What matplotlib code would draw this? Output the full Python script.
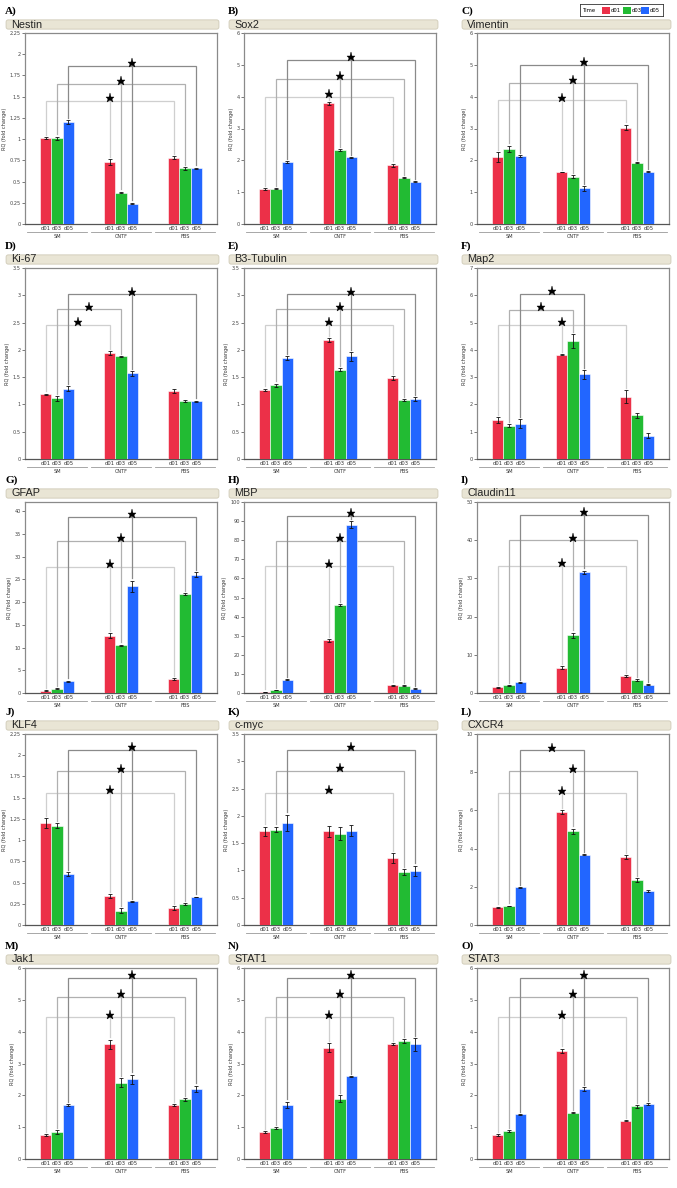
import matplotlib.pyplot as plt
from matplotlib.patches import FancyBboxPatch, Rectangle
import matplotlib.transforms as mtransforms
import numpy as np

# ---- data: order is SM d01,d03,d05 | CNTF d01,d03,d05 | FBS d01,d03,d05
groups = ["SM", "CNTF", "FBS"]
times = ["d01", "d03", "d05"]
colors = ["#ec3048", "#22bb33", "#2266ff"]
brk_colors = ["#cfcfcf", "#b0b0b0", "#8a8a8a"]

mean_nestin = [1.01, 1.01, 1.20, 0.73, 0.37, 0.24, 0.78, 0.655, 0.655]
err_nestin = [0.01, 0.02, 0.02, 0.03, 0.01, 0.01, 0.02, 0.015, 0.01]
brk_nestin = [(1.45, "F"), (1.65, "F"), (1.86, "F")]

mean_sox2 = [1.10, 1.11, 1.95, 3.79, 2.32, 2.09, 1.84, 1.46, 1.33]
err_sox2 = [0.02, 0.02, 0.02, 0.04, 0.03, 0.01, 0.06, 0.02, 0.02]
brk_sox2 = [(4.0, "F"), (4.56, "F"), (5.15, "F")]

mean_vim = [2.10, 2.36, 2.13, 1.63, 1.49, 1.12, 3.03, 1.93, 1.64]
err_vim = [0.16, 0.10, 0.04, 0.01, 0.04, 0.07, 0.09, 0.02, 0.02]
brk_vim = [(3.88, "F"), (4.43, "F"), (5.0, "F")]

mean_ki67 = [1.19, 1.11, 1.29, 1.94, 1.88, 1.57, 1.25, 1.07, 1.06]
err_ki67 = [0.01, 0.04, 0.04, 0.03, 0.01, 0.04, 0.04, 0.02, 0.01]
brk_ki67 = [(2.46, "C"), (2.74, "C"), (3.02, "F")]

mean_tub = [1.27, 1.35, 1.85, 2.18, 1.64, 1.88, 1.48, 1.08, 1.10]
err_tub = [0.02, 0.03, 0.03, 0.03, 0.02, 0.08, 0.04, 0.02, 0.03]
brk_tub = [(2.46, "F"), (2.74, "F"), (3.02, "F")]

mean_map2 = [1.43, 1.22, 1.30, 3.82, 4.33, 3.10, 2.28, 1.60, 0.86]
err_map2 = [0.10, 0.05, 0.15, 0.02, 0.25, 0.15, 0.24, 0.10, 0.10]
brk_map2 = [(4.92, "F"), (5.46, "C"), (6.05, "C")]

mean_gfap = [0.5, 0.9, 2.6, 12.6, 10.5, 23.5, 3.1, 21.8, 26.0]
err_gfap = [0.1, 0.1, 0.1, 0.6, 0.15, 1.2, 0.15, 0.2, 0.5]
brk_gfap = [(27.7, "F"), (33.4, "F"), (38.7, "F")]

mean_mbp = [0.6, 1.5, 7.0, 27.5, 46.0, 88.0, 4.0, 3.9, 2.2]
err_mbp = [0.1, 0.1, 0.3, 0.8, 0.4, 1.8, 0.3, 0.3, 0.2]
brk_mbp = [(66.3, "F"), (79.8, "F"), (92.6, "F")]

mean_cld = [1.5, 2.0, 2.8, 6.6, 15.1, 31.6, 4.4, 3.4, 2.2]
err_cld = [0.1, 0.1, 0.1, 0.4, 0.7, 0.4, 0.2, 0.3, 0.1]
brk_cld = [(33.3, "F"), (40.0, "F"), (46.7, "F")]

mean_klf4 = [1.20, 1.17, 0.60, 0.34, 0.17, 0.28, 0.20, 0.245, 0.33]
err_klf4 = [0.06, 0.03, 0.02, 0.025, 0.025, 0.005, 0.02, 0.01, 0.005]
brk_klf4 = [(1.555, "F"), (1.81, "F"), (2.06, "F")]

mean_myc = [1.72, 1.75, 1.87, 1.72, 1.67, 1.73, 1.23, 0.97, 0.99]
err_myc = [0.08, 0.05, 0.15, 0.10, 0.12, 0.10, 0.09, 0.05, 0.10]
brk_myc = [(2.42, "N"), (2.82, "N"), (3.21, "N")]

mean_cxcr4 = [0.93, 1.0, 1.97, 5.9, 4.9, 3.68, 3.57, 2.35, 1.78]
err_cxcr4 = [0.03, 0.02, 0.03, 0.10, 0.15, 0.03, 0.10, 0.10, 0.06]
brk_cxcr4 = [(6.9, "F"), (8.04, "F"), (9.14, "C")]

mean_jak1 = [0.75, 0.85, 1.70, 3.60, 2.40, 2.50, 1.70, 1.87, 2.20]
err_jak1 = [0.03, 0.05, 0.03, 0.15, 0.15, 0.15, 0.03, 0.05, 0.10]
brk_jak1 = [(4.45, "F"), (5.1, "F"), (5.7, "F")]

mean_stat1 = [0.85, 0.97, 1.70, 3.50, 1.90, 2.60, 3.60, 3.70, 3.60]
err_stat1 = [0.03, 0.03, 0.10, 0.15, 0.10, 0.01, 0.03, 0.07, 0.20]
brk_stat1 = [(4.45, "F"), (5.1, "F"), (5.7, "F")]

mean_stat3 = [0.75, 0.88, 1.40, 3.40, 1.45, 2.20, 1.20, 1.65, 1.72]
err_stat3 = [0.02, 0.02, 0.02, 0.07, 0.02, 0.05, 0.02, 0.05, 0.03]
brk_stat3 = [(4.45, "F"), (5.1, "F"), (5.7, "F")]

letters = list("ABCDEFGHIJKLMNO")
genes = ["Nestin", "Sox2", "Vimentin", "Ki-67", "B3-Tubulin", "Map2",
         "GFAP", "MBP", "Claudin11", "KLF4", "c-myc", "CXCR4",
         "Jak1", "STAT1", "STAT3"]
ymax = [2.25, 6, 6, 3.5, 3.5, 7, 42, 100, 50, 2.25, 3.5, 10, 6, 6, 6]
ystep = [0.25, 1, 1, 0.5, 0.5, 1, 5, 10, 10, 0.25, 0.5, 2, 1, 1, 1]
means = [mean_nestin, mean_sox2, mean_vim, mean_ki67, mean_tub, mean_map2,
         mean_gfap, mean_mbp, mean_cld, mean_klf4, mean_myc, mean_cxcr4,
         mean_jak1, mean_stat1, mean_stat3]
errs = [err_nestin, err_sox2, err_vim, err_ki67, err_tub, err_map2,
        err_gfap, err_mbp, err_cld, err_klf4, err_myc, err_cxcr4,
        err_jak1, err_stat1, err_stat3]
brks = [brk_nestin, brk_sox2, brk_vim, brk_ki67, brk_tub, brk_map2,
        brk_gfap, brk_mbp, brk_cld, brk_klf4, brk_myc, brk_cxcr4,
        brk_jak1, brk_stat1, brk_stat3]

# ---- layout in pixels
W, H = 677, 1188
fig = plt.figure(figsize=(W / 100, H / 100), dpi=100)

def frect(x0, y0, w, h):
    return [x0 / W, 1 - (y0 + h) / H, w / W, h / H]

col_left = [25, 244, 477]
row_top = [33, 268, 502, 734, 968]
ax_w, ax_h = 192, 191
bw = 0.177
xg = np.arange(3)

for i in range(15):
    r, c = divmod(i, 3)
    left, top = col_left[c], row_top[r]
    ax = fig.add_axes(frect(left, top, ax_w, ax_h))
    vals = np.array(means[i]).reshape(3, 3)
    ers = np.array(errs[i]).reshape(3, 3)
    ym = ymax[i]

    for t in range(3):
        ax.bar(xg + (t - 1) * bw, vals[:, t], bw, color=colors[t],
               edgecolor="#ffffff", linewidth=0.4, zorder=3,
               yerr=ers[:, t],
               error_kw=dict(ecolor="#111111", elinewidth=0.6, capsize=1.6,
                             capthick=0.6, zorder=4))

    gap = 0.012 * ym
    for t, (lev, kind) in enumerate(brks[i]):
        g2 = 1 if kind == "C" else 2
        x1 = 0 + (t - 1) * bw
        x2 = g2 + (t - 1) * bw
        y1 = vals[0, t] + ers[0, t] + gap
        y2 = vals[g2, t] + ers[g2, t] + gap
        ax.plot([x1, x1, x2, x2], [y1, lev, lev, y2], color=brk_colors[t],
                lw=0.9, zorder=2, solid_joinstyle="miter")
        if kind == "F":
            xc = 1 + (t - 1) * bw
            ax.plot([xc, xc], [vals[1, t] + ers[1, t] + gap, lev + 0.01 * ym],
                    color=brk_colors[t], lw=0.9, zorder=2)
            sx = xc
        else:
            sx = (x1 + x2) / 2
        ax.plot([sx], [lev + 0.014 * ym], marker="*", ms=6.5, color="black",
                mec="black", mew=0.3, zorder=5, clip_on=False)

    ax.set_xlim(-0.5, 2.5)
    ax.set_ylim(0, ym)
    ticks = np.arange(0, ym + 1e-9, ystep[i])
    ax.set_yticks(ticks)
    ax.set_yticklabels([f"{v:g}" for v in ticks])
    pos = np.concatenate([xg + (t - 1) * bw for t in range(3)])
    ax.set_xticks(np.sort(pos))
    ax.set_xticklabels(times * 3)
    ax.tick_params(axis="y", length=2, width=0.5, labelsize=3.6, pad=1,
                   colors="#444444")
    ax.tick_params(axis="x", length=0, labelsize=3.8, pad=1.5,
                   colors="#333333")
    ax.set_ylabel("RQ (fold change)", fontsize=3.6, labelpad=2,
                  color="#333333")
    for s in ax.spines.values():
        s.set_color("#8a8a8a")
        s.set_linewidth(0.9)
    ax.spines["bottom"].set_color("#555555")

    trans = mtransforms.blended_transform_factory(ax.transData, ax.transAxes)
    for g in range(3):
        ax.plot([g - 0.47, g + 0.47], [-0.043, -0.043], color="#999999",
                lw=0.6, transform=trans, clip_on=False)
        ax.text(g, -0.068, groups[g], transform=trans, ha="center",
                va="center", fontsize=3.6, color="#333333")

    # title strip
    s_left = left - (20 if c == 0 else 16)
    s_w = (left + 195) - s_left
    sax = fig.add_axes(frect(s_left, top - 14, s_w, 11))
    sax.set_axis_off()
    sax.add_patch(FancyBboxPatch((0.005, 0.08), 0.99, 0.84,
                                 boxstyle="round,pad=0,rounding_size=0.01",
                                 transform=sax.transAxes, facecolor="#e9e5d5",
                                 edgecolor="#cfcab6", linewidth=0.6,
                                 mutation_aspect=20))
    sax.text(0.03, 0.5, genes[i], transform=sax.transAxes, ha="left",
             va="center", fontsize=7.8, family="Liberation Sans",
             color="#222222")
    fig.text((s_left) / W, 1 - (top - 22) / H, letters[i] + ")",
             ha="left", va="center", fontsize=8, fontweight="bold",
             family="Liberation Serif")

# legend box
lax = fig.add_axes(frect(580, 4, 83, 12))
lax.set_xlim(0, 83)
lax.set_ylim(0, 12)
lax.set_xticks([])
lax.set_yticks([])
for s in lax.spines.values():
    s.set_color("#333333")
    s.set_linewidth(0.6)
lax.text(3, 6, "Time", fontsize=3.8, va="center", ha="left")
for t, x0 in enumerate([22, 43, 61]):
    lax.add_patch(Rectangle((x0, 2.5), 8, 7, facecolor=colors[t],
                            edgecolor="none"))
    lax.text(x0 + 8.5, 6, times[t], fontsize=3.8, va="center", ha="left")

fig.savefig("out.png", dpi=100)
